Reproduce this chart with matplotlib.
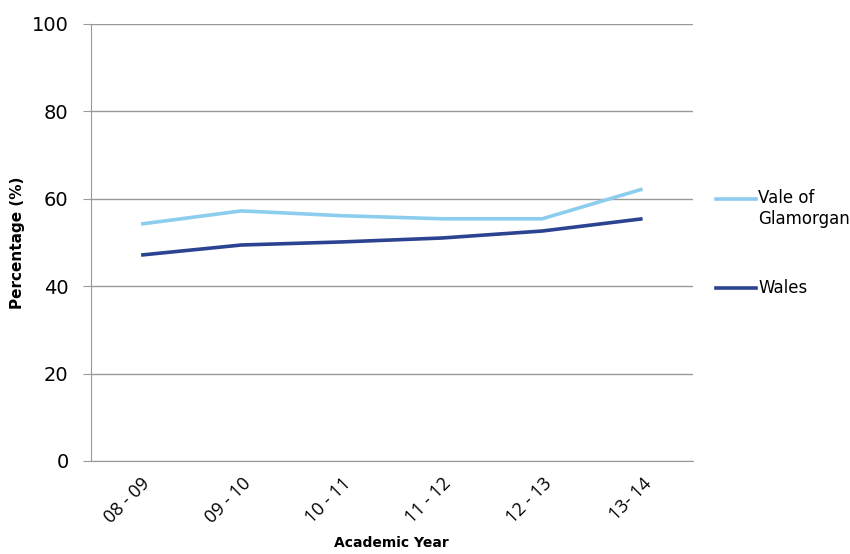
import matplotlib.pyplot as plt
from matplotlib.lines import Line2D

# data
years = ['08 - 09', '09 - 10', '10 - 11', '11 - 12', '12 - 13', '13- 14']
vale = [54.2, 57.2, 56.1, 55.4, 55.4, 62.2]
wales = [47.1, 49.4, 50.1, 51.0, 52.6, 55.4]

vale_col = '#8ccdee'
wales_col = '#2b4390'

fig = plt.figure(figsize=(8.5, 5.54), dpi=100)
ax = fig.add_axes([0.107, 0.168, 0.708, 0.789])

x = range(len(years))
ax.plot(x, vale, color=vale_col, lw=2.6, solid_capstyle='butt')
ax.plot(x, wales, color=wales_col, lw=2.6, solid_capstyle='butt')

ax.set_xlim(-0.5, len(years) - 0.5)
ax.set_ylim(0, 100)
ax.set_yticks(range(0, 101, 20))
ax.set_xticks(list(x))
ax.set_xticklabels(years, rotation=45, ha='right', rotation_mode='anchor',
                   fontsize=13, family='Open Sans')
ax.tick_params(axis='y', labelsize=14, color='#999999', length=6, pad=10)
ax.tick_params(axis='x', length=0, pad=10)
ax.grid(axis='y', color='#999999', lw=1)
ax.set_axisbelow(True)
for s in ['top', 'right']:
    ax.spines[s].set_visible(False)
for s in ['left', 'bottom']:
    ax.spines[s].set_color('#999999')

ax.set_ylabel('Percentage (%)', fontsize=11, fontweight='bold', labelpad=5)
ax.set_xlabel('Academic Year', fontsize=10, fontweight='bold', labelpad=6)

# legend drawn by hand to match the layout
fig.add_artist(Line2D([0.842, 0.889], [1 - 199 / 554] * 2, color=vale_col, lw=2.6,
                      transform=fig.transFigure))
fig.text(0.892, 1 - 189 / 554, 'Vale of\nGlamorgan', fontsize=12, va='top',
         ha='left', linespacing=1.2)
fig.add_artist(Line2D([0.842, 0.889], [1 - 288 / 554] * 2, color=wales_col, lw=2.6,
                      transform=fig.transFigure))
fig.text(0.892, 1 - 288 / 554, 'Wales', fontsize=12, va='center', ha='left')

fig.savefig('out.png', dpi=100)
